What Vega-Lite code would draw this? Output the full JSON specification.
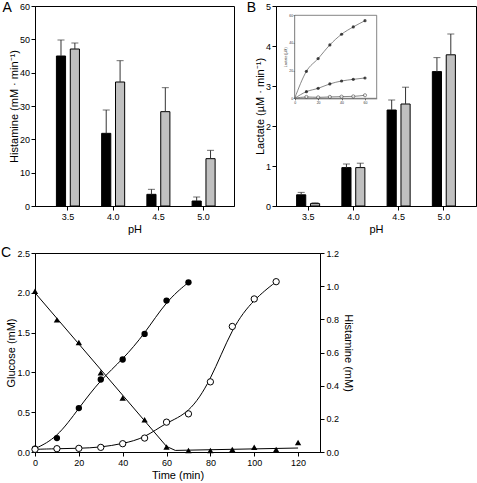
{
  "$schema": "https://vega.github.io/schema/vega-lite/v6.json",
  "padding": {"left": 0, "top": 0, "right": 0, "bottom": 0},
  "background": "white",
  "config": {
    "font": "Liberation Sans",
    "view": {"stroke": "black", "strokeWidth": 1},
    "axis": {"domainColor": "black", "tickColor": "black", "labelColor": "black", "titleColor": "black", "labelFont": "Liberation Sans", "titleFont": "Liberation Sans", "labelFontSize": 9, "titleFontSize": 11, "titleFontWeight": "normal", "tickSize": 4, "grid": false, "labelPadding": 2, "titlePadding": 1, "labelOverlap": false, "labelFlush": false},
    "axisLeft": {"labelPadding": 1.5, "titlePadding": 0},
    "title": {"font": "Liberation Sans", "fontSize": 14, "fontWeight": "normal", "anchor": "start", "frame": "group", "baseline": "alphabetic", "color": "black"}
  },
  "datasets": {
    "histA": [
      {"pH": "3.5", "c": "a", "v": 45, "e": 49.8}, {"pH": "3.5", "c": "b", "v": 47.1, "e": 48.9},
      {"pH": "4.0", "c": "a", "v": 21.8, "e": 28.8}, {"pH": "4.0", "c": "b", "v": 37.2, "e": 43.6},
      {"pH": "4.5", "c": "a", "v": 3.5, "e": 5.0}, {"pH": "4.5", "c": "b", "v": 28.3, "e": 35.5},
      {"pH": "5.0", "c": "a", "v": 1.5, "e": 2.7}, {"pH": "5.0", "c": "b", "v": 14.2, "e": 16.7}
    ],
    "lacB": [
      {"pH": "3.5", "c": "a", "v": 0.28, "e": 0.34}, {"pH": "3.5", "c": "b", "v": 0.06, "e": 0.08},
      {"pH": "4.0", "c": "a", "v": 0.96, "e": 1.05}, {"pH": "4.0", "c": "b", "v": 0.96, "e": 1.07},
      {"pH": "4.5", "c": "a", "v": 2.4, "e": 2.65}, {"pH": "4.5", "c": "b", "v": 2.55, "e": 2.97},
      {"pH": "5.0", "c": "a", "v": 3.36, "e": 3.71}, {"pH": "5.0", "c": "b", "v": 3.78, "e": 4.3}
    ],
    "inset": [
      {"t": 0, "l": 0, "s": "s1"}, {"t": 10, "l": 19.5, "s": "s1"}, {"t": 20, "l": 28.7, "s": "s1"}, {"t": 30, "l": 38.6, "s": "s1"}, {"t": 40, "l": 46.3, "s": "s1"}, {"t": 50, "l": 51.6, "s": "s1"}, {"t": 60, "l": 56.1, "s": "s1"},
      {"t": 0, "l": 0, "s": "s2"}, {"t": 10, "l": 4.8, "s": "s2"}, {"t": 20, "l": 7.2, "s": "s2"}, {"t": 30, "l": 10.4, "s": "s2"}, {"t": 40, "l": 12.5, "s": "s2"}, {"t": 50, "l": 13.7, "s": "s2"}, {"t": 60, "l": 14.7, "s": "s2"},
      {"t": 0, "l": 0, "s": "s3"}, {"t": 10, "l": 1.0, "s": "s3"}, {"t": 20, "l": 0.7, "s": "s3"}, {"t": 30, "l": 1.0, "s": "s3"}, {"t": 40, "l": 1.2, "s": "s3"}, {"t": 50, "l": 1.4, "s": "s3"}, {"t": 60, "l": 2.2, "s": "s3"}
    ],
    "glucose": [
      {"t": 0, "g": 2.02}, {"t": 10, "g": 1.66}, {"t": 20, "g": 1.375}, {"t": 30, "g": 0.995}, {"t": 40, "g": 0.677}, {"t": 50, "g": 0.405}, {"t": 60, "g": 0.063}, {"t": 70, "g": 0.02}, {"t": 80, "g": 0.02}, {"t": 90, "g": 0.03}, {"t": 100, "g": 0.06}, {"t": 110, "g": 0.03}, {"t": 120, "g": 0.12}
    ],
    "gfit": [
      {"t": 0, "g": 2.0}, {"t": 60, "g": 0.07}, {"t": 64, "g": 0.02}, {"t": 120, "g": 0.05}
    ],
    "hist": [
      {"t": 0, "h": 0.02, "s": "filled"}, {"t": 10, "h": 0.084, "s": "filled"}, {"t": 20, "h": 0.265, "s": "filled"}, {"t": 30, "h": 0.437, "s": "filled"}, {"t": 40, "h": 0.558, "s": "filled"}, {"t": 50, "h": 0.712, "s": "filled"}, {"t": 60, "h": 0.913, "s": "filled"}, {"t": 70, "h": 1.023, "s": "filled"},
      {"t": 0, "h": 0.016, "s": "open"}, {"t": 10, "h": 0.02, "s": "open"}, {"t": 20, "h": 0.022, "s": "open"}, {"t": 30, "h": 0.028, "s": "open"}, {"t": 40, "h": 0.05, "s": "open"}, {"t": 50, "h": 0.084, "s": "open"}, {"t": 60, "h": 0.18, "s": "open"}, {"t": 70, "h": 0.23, "s": "open"}, {"t": 80, "h": 0.423, "s": "open"}, {"t": 90, "h": 0.757, "s": "open"}, {"t": 100, "h": 0.923, "s": "open"}, {"t": 110, "h": 1.027, "s": "open"}
    ]
  },
  "spacing": 10,
  "vconcat": [
    {
      "spacing": 11,
      "hconcat": [
        {
          "width": 199, "height": 200,
          "title": {"text": "A", "dx": -32.5, "offset": -12.7},
          "data": {"name": "histA"},
          "encoding": {
            "x": {"field": "pH", "type": "ordinal", "scale": {"paddingInner": 0, "paddingOuter": 0.2, "align": 0.57}, "axis": {"title": "pH", "labelAngle": 0, "titleColor": "black", "titlePadding": 2}},
            "xOffset": {"field": "c", "type": "nominal", "scale": {"paddingInner": 0.34, "paddingOuter": 0.8}},
            "y": {"field": "v", "type": "quantitative", "scale": {"domain": [0, 60]}, "axis": {"title": "Histamine (mM · min⁻¹)", "values": [0, 10, 20, 30, 40, 50, 60], "titleColor": "black"}}
          },
          "layer": [
            {"mark": {"type": "bar", "stroke": "black", "strokeWidth": 1},
             "encoding": {
               "color": {"field": "c", "type": "nominal", "scale": {"domain": ["a", "b"], "range": ["black", "#c0c0c0"]}, "legend": null}
             }},
            {"mark": {"type": "rule", "color": "#333", "strokeWidth": 1},
             "encoding": {"y2": {"field": "e"}}},
            {"mark": {"type": "tick", "color": "#333", "thickness": 1, "size": 7},
             "encoding": {"y": {"field": "e", "type": "quantitative", "scale": {"domain": [0, 60]}, "axis": {"title": "Histamine (mM · min⁻¹)", "values": [0, 10, 20, 30, 40, 50, 60], "titleColor": "black"}}}}
          ]
        },
        {
          "width": 200, "height": 200,
          "title": {"text": "B", "dx": -29.3, "offset": -12.7},
          "layer": [
            {
              "data": {"name": "lacB"},
              "encoding": {
                "x": {"field": "pH", "type": "ordinal", "scale": {"paddingInner": 0, "paddingOuter": 0.21, "align": 0.5}, "axis": {"title": "pH", "labelAngle": 0, "titleColor": "black", "titlePadding": 2}},
                "xOffset": {"field": "c", "type": "nominal", "scale": {"paddingInner": 0.34, "paddingOuter": 0.8}},
                "y": {"field": "v", "type": "quantitative", "scale": {"domain": [0, 5]}, "axis": {"title": "Lactate (µM · min⁻¹)", "values": [0, 1, 2, 3, 4, 5], "orient": "left", "titleColor": "black"}}
              },
              "layer": [
                {"mark": {"type": "bar", "stroke": "black", "strokeWidth": 1},
                 "encoding": {
                   "color": {"field": "c", "type": "nominal", "scale": {"domain": ["a", "b"], "range": ["black", "#c0c0c0"]}, "legend": null}
                 }},
                {"mark": {"type": "rule", "color": "#333", "strokeWidth": 1},
                 "encoding": {"y2": {"field": "e"}}},
                {"mark": {"type": "tick", "color": "#333", "thickness": 1, "size": 7},
                 "encoding": {"y": {"field": "e", "type": "quantitative", "scale": {"domain": [0, 5]}, "axis": {"title": "Lactate (µM · min⁻¹)", "values": [0, 1, 2, 3, 4, 5], "orient": "left", "titleColor": "black"}}}}
              ]
            },
            {
              "layer": [
                {
                  "data": {"values": [{}]},
                  "mark": {"type": "rect", "fill": "white", "stroke": "#666", "strokeWidth": 0.8},
                  "encoding": {
                    "x": {"datum": 0, "type": "quantitative", "scale": {"domain": [0, 70], "range": [18.7, 100.7]}, "axis": {"orient": "bottom", "offset": -107.7, "values": [0, 10, 20, 30, 40, 50, 60, 70], "labelFontSize": 3.5, "tickSize": 1.5, "labelPadding": 0.5, "title": null, "domainColor": "#666", "tickColor": "#666", "labelColor": "#333"}},
                    "x2": {"datum": 70},
                    "y": {"datum": 0, "type": "quantitative", "scale": {"domain": [0, 60], "range": [92.3, 9.3]}, "axis": {"orient": "left", "offset": -18.7, "values": [0, 10, 20, 30, 40, 50, 60], "labelFontSize": 3.5, "tickSize": 1.5, "labelPadding": 0.5, "title": "Lactate (µM)", "titleFontSize": 3.5, "titlePadding": 1, "domainColor": "#666", "tickColor": "#666", "labelColor": "#333", "titleColor": "#333"}},
                    "y2": {"datum": 60}
                  }
                },
                {
                  "data": {"name": "inset"},
                  "mark": {"type": "line", "interpolate": "monotone", "color": "#555", "strokeWidth": 0.7},
                  "encoding": {
                    "x": {"field": "t", "type": "quantitative", "scale": {"domain": [0, 70], "range": [18.7, 100.7]}},
                    "y": {"field": "l", "type": "quantitative", "scale": {"domain": [0, 60], "range": [92.3, 9.3]}},
                    "detail": {"field": "s"}
                  }
                },
                {
                  "data": {"name": "inset"},
                  "transform": [{"filter": "datum.t > 0 && datum.s != 's3'"}],
                  "mark": {"type": "point", "filled": true, "color": "black", "size": 10},
                  "encoding": {
                    "x": {"field": "t", "type": "quantitative"},
                    "y": {"field": "l", "type": "quantitative"}
                  }
                },
                {
                  "data": {"name": "inset"},
                  "transform": [{"filter": "datum.t > 0 && datum.s == 's3'"}],
                  "mark": {"type": "point", "filled": true, "fill": "white", "stroke": "black", "strokeWidth": 0.6, "size": 10},
                  "encoding": {
                    "x": {"field": "t", "type": "quantitative"},
                    "y": {"field": "l", "type": "quantitative"}
                  }
                }
              ]
            }
          ],
          "resolve": {"scale": {"x": "independent", "y": "independent"}, "axis": {"x": "independent", "y": "independent"}}
        }
      ]
    },
    {
      "width": 285, "height": 199,
      "title": {"text": "C", "dx": -34, "offset": -11.2},
      "encoding": {
        "x": {"field": "t", "type": "quantitative", "scale": {"domain": [0, 130]}, "axis": {"title": "Time (min)", "values": [0, 20, 40, 60, 80, 100, 120], "titlePadding": 2}}
      },
      "layer": [
        {
          "encoding": {
            "y": {"field": "g", "type": "quantitative", "scale": {"domain": [0, 2.5]}, "axis": {"title": "Glucose (mM)", "orient": "left", "values": [0, 0.5, 1, 1.5, 2, 2.5], "format": ".1f"}}
          },
          "layer": [
            {
              "data": {"name": "gfit"},
              "mark": {"type": "line", "color": "black", "strokeWidth": 1}
            },
            {
              "data": {"name": "glucose"},
              "mark": {"type": "point", "shape": "triangle-up", "filled": true, "color": "black", "size": 40, "opacity": 1}
            }
          ]
        },
        {
          "data": {"name": "hist"},
          "encoding": {
            "y": {"field": "h", "type": "quantitative", "scale": {"domain": [0, 1.2]}, "axis": {"title": "Histamine (mM)", "orient": "right", "values": [0, 0.2, 0.4, 0.6, 0.8, 1.0, 1.2], "format": ".1f", "titlePadding": 4}}
          },
          "layer": [
            {
              "mark": {"type": "line", "interpolate": "basis", "color": "black", "strokeWidth": 1},
              "encoding": {"detail": {"field": "s"}}
            },
            {
              "transform": [{"filter": "datum.s == 'filled'"}],
              "mark": {"type": "point", "filled": true, "color": "black", "size": 40, "opacity": 1}
            },
            {
              "transform": [{"filter": "datum.s == 'open'"}],
              "mark": {"type": "point", "filled": true, "fill": "white", "stroke": "black", "strokeWidth": 1, "size": 40, "opacity": 1}
            }
          ]
        }
      ],
      "resolve": {"scale": {"y": "independent"}}
    }
  ]
}
